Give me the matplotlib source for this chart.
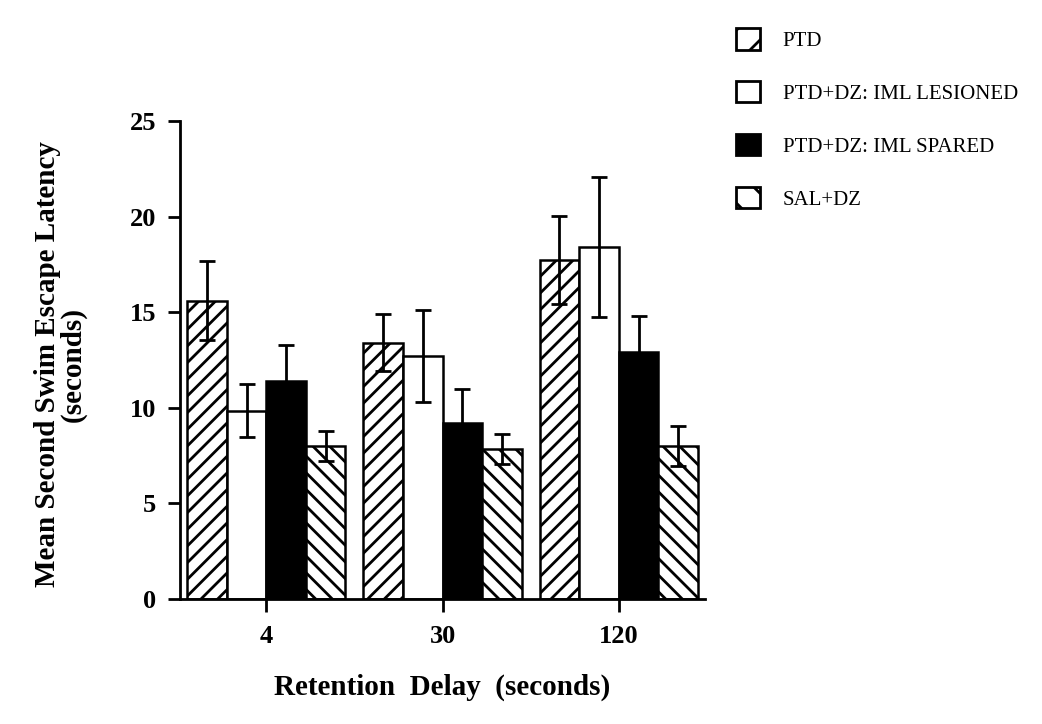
import matplotlib
matplotlib.use('Agg')
import matplotlib.pyplot as plt
import matplotlib.patches as mpatches
import numpy as np

plt.rcParams['font.family'] = ['Liberation Serif', 'DejaVu Serif']
plt.rcParams['hatch.linewidth'] = 2.0
plt.rcParams['hatch.color'] = 'black'

# ---- data ----
delays = ['4', '30', '120']
groups = ['PTD', 'PTD+DZ: IML LESIONED', 'PTD+DZ: IML SPARED', 'SAL+DZ']
ptd = [15.6, 13.4, 17.75]
ptd_err = [2.05, 1.5, 2.3]
lesioned = [9.85, 12.7, 18.4]
lesioned_err = [1.4, 2.4, 3.65]
spared = [11.4, 9.2, 12.9]
spared_err = [1.9, 1.8, 1.9]
sal = [8.0, 7.85, 8.0]
sal_err = [0.8, 0.8, 1.05]

means = [ptd, lesioned, spared, sal]
errs = [ptd_err, lesioned_err, spared_err, sal_err]
fills = ['white', 'white', 'black', 'white']
hatches = ['//', '', '', '\\\\']

fig = plt.figure(figsize=(10.42, 7.24), dpi=100)
ax = fig.add_axes([0.1727, 0.1727, 0.504, 0.6603])

x = np.arange(len(delays))
w = 0.2245
for i in range(4):
    pos = x + (i - 1.5) * w
    ax.bar(pos, means[i], w, color=fills[i], edgecolor='black',
           linewidth=1.8, hatch=hatches[i], zorder=2)
    ax.errorbar(pos, means[i], yerr=errs[i], fmt='none', ecolor='black',
                elinewidth=2, capsize=6, capthick=2, zorder=3)

ax.set_xlim(-0.49, 2.49)
ax.set_ylim(0, 25)
ax.set_xticks(x)
ax.set_xticklabels(delays)
ax.set_yticks([0, 5, 10, 15, 20, 25])
for s in ['top', 'right']:
    ax.spines[s].set_visible(False)
for s in ['left', 'bottom']:
    ax.spines[s].set_linewidth(2)
ax.tick_params(axis='both', width=2, length=9, labelsize=19, pad=8)
ax.tick_params(axis='x', pad=10)
for t in ax.get_xticklabels() + ax.get_yticklabels():
    t.set_fontweight('bold')

fig.text(0.058, 0.497, 'Mean Second Swim Escape Latency\n(seconds)',
         rotation=90, ha='center', va='center', fontsize=21,
         fontweight='bold', linespacing=0.9)
fig.text(0.424, 0.05, 'Retention  Delay  (seconds)', ha='center',
         va='center', fontsize=21, fontweight='bold')

handles = [mpatches.Patch(facecolor=fills[i], edgecolor='black',
                          linewidth=2, hatch=hatches[i][:1]) for i in range(4)]
fig.legend(handles, groups, loc='upper left', bbox_to_anchor=(0.688, 0.987),
           frameon=False, fontsize=15, handlelength=1.15, handleheight=1.2,
           handletextpad=1.1, labelspacing=1.45)

fig.savefig('out.png', dpi=100)
